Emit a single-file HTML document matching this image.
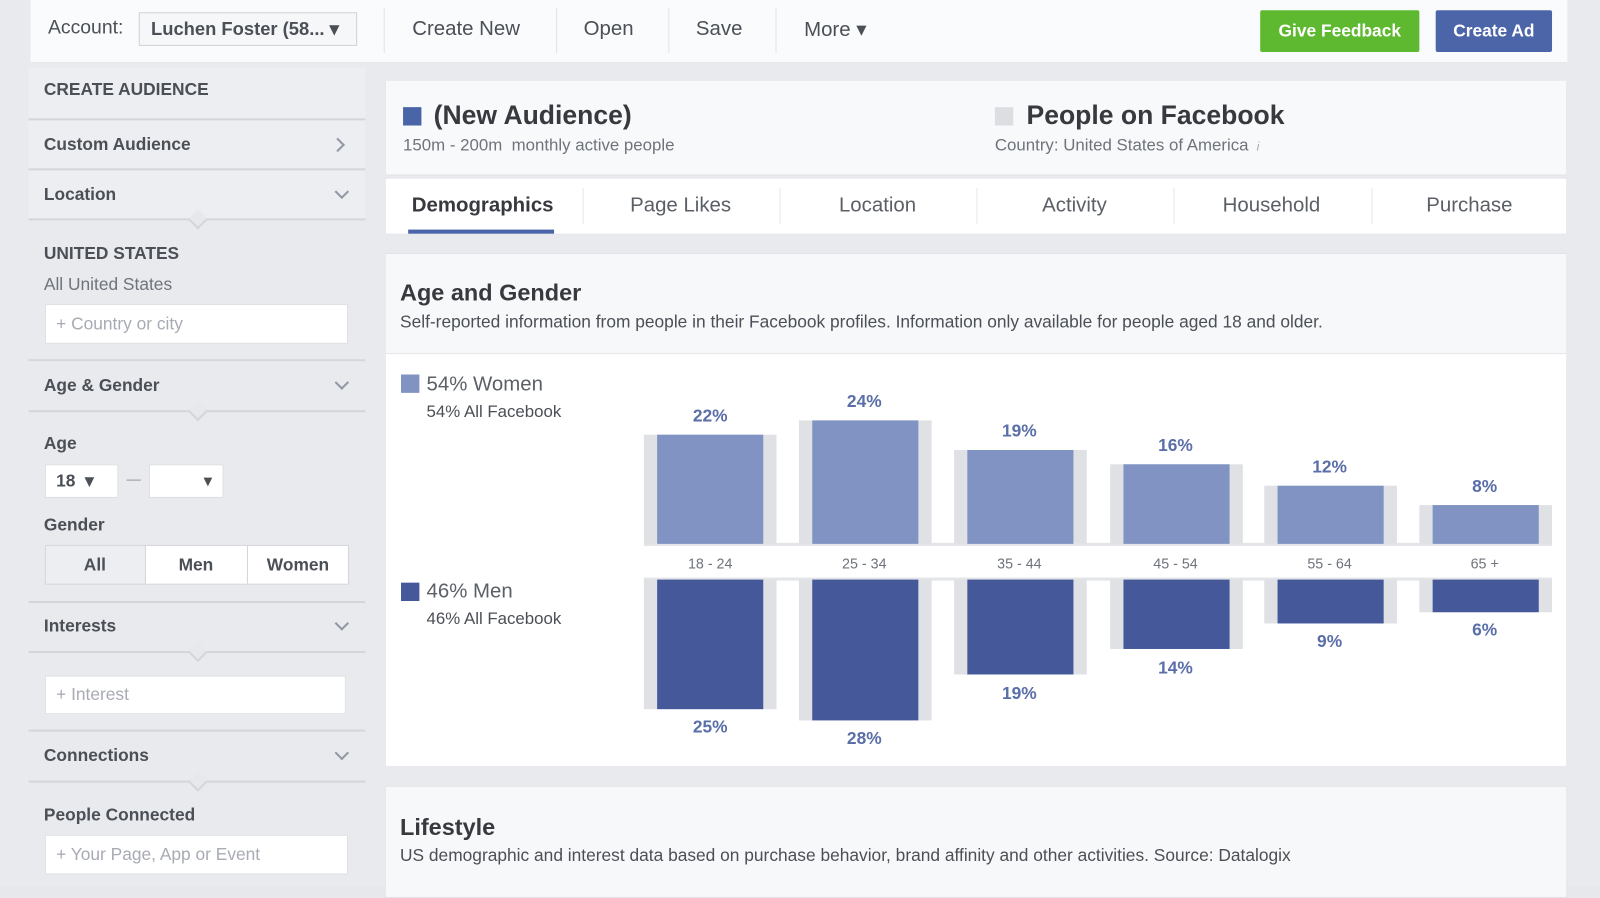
<!DOCTYPE html>
<html><head><meta charset="utf-8"><style>
*{margin:0;padding:0;box-sizing:border-box}
html,body{width:1600px;height:887px;overflow:hidden;background:#e6e8ec;font-family:"Liberation Sans",Arial,sans-serif}
#w{position:absolute;left:0;top:0;width:1568px;height:869px;transform:scale(1.0204);transform-origin:0 0;background:#e8eaee}
.a{position:absolute;white-space:nowrap}
.t{position:absolute;white-space:nowrap;transform:translateY(-50%)}
.c{position:absolute;white-space:nowrap;transform:translate(-50%,-50%)}
.sb{color:#4b4f56;font-weight:bold;font-size:17px}
.line{position:absolute;left:28px;width:330px;height:2px;background:#d3d6db}
.chev{position:absolute;width:10px;height:10px;border-right:2px solid #9197a3;border-bottom:2px solid #9197a3;transform:rotate(45deg)}
.notch{position:absolute;width:14px;height:14px;border-right:2px solid #d3d6db;border-bottom:2px solid #d3d6db;transform:rotate(45deg);background:#e6e8ec}
.inp{position:absolute;background:#fff;border:1px solid #dddfe2;color:#a7abb3;font-size:17px;padding-left:10px;display:flex;align-items:center}
.lbl{color:#5a6ea8;font-weight:bold;font-size:17px}
</style></head><body><div id="w">
<div class="a" style="left:30px;top:0;width:1506px;height:62px;background:#fafbfc;border-bottom:1px solid #dfe1e5"></div>
<div class="t" style="left:47px;top:28px;font-size:19px;color:#4b4f56">Account:</div>
<div class="a" style="left:136px;top:12px;width:214px;height:33px;border:1px solid #cfd2d7;background:#f6f7f9"></div>
<div class="t" style="left:148px;top:29px;font-size:18px;font-weight:bold;color:#4b4f56">Luchen Foster (58... ▾</div>
<div class="a" style="left:376px;top:8px;width:1px;height:44px;background:#e1e3e7"></div>
<div class="a" style="left:545px;top:8px;width:1px;height:44px;background:#e1e3e7"></div>
<div class="a" style="left:655px;top:8px;width:1px;height:44px;background:#e1e3e7"></div>
<div class="a" style="left:760px;top:8px;width:1px;height:44px;background:#e1e3e7"></div>
<div class="t" style="left:404px;top:29px;font-size:20px;color:#4b4f56">Create New</div>
<div class="t" style="left:572px;top:29px;font-size:20px;color:#4b4f56">Open</div>
<div class="t" style="left:682px;top:29px;font-size:20px;color:#4b4f56">Save</div>
<div class="t" style="left:788px;top:29px;font-size:20px;color:#4b4f56">More ▾</div>
<div class="a" style="left:1235px;top:10px;width:156px;height:41px;background:#5fb930;border-radius:2px;color:#fff;font-weight:bold;font-size:17px;display:flex;align-items:center;justify-content:center">Give Feedback</div>
<div class="a" style="left:1407px;top:10px;width:114px;height:41px;background:#4c65a9;border-radius:2px;color:#fff;font-weight:bold;font-size:17px;display:flex;align-items:center;justify-content:center">Create Ad</div>
<div class="a" style="left:28px;top:66px;width:330px;height:150px;background:#eceef1"></div>
<div class="t sb" style="left:43px;top:88px">CREATE AUDIENCE</div>
<div class="line" style="top:116px"></div>
<div class="t sb" style="left:43px;top:142px">Custom Audience</div>
<div class="chev" style="left:326px;top:137px;transform:rotate(-45deg)"></div>
<div class="line" style="top:165px"></div>
<div class="t sb" style="left:43px;top:191px">Location</div>
<div class="chev" style="left:330px;top:183px"></div>
<div class="line" style="top:214px"></div><div class="notch" style="left:187px;top:208px"></div>
<div class="t sb" style="left:43px;top:249px">UNITED STATES</div>
<div class="t" style="left:43px;top:279px;font-size:17px;color:#6f737b">All United States</div>
<div class="inp" style="left:44px;top:298px;width:297px;height:39px">+ Country or city</div>
<div class="line" style="top:352px"></div>
<div class="t sb" style="left:43px;top:378px">Age &amp; Gender</div>
<div class="chev" style="left:330px;top:370px"></div>
<div class="line" style="top:402px"></div><div class="notch" style="left:187px;top:396px"></div>
<div class="t sb" style="left:43px;top:435px;font-weight:bold">Age</div>
<div class="inp" style="left:44px;top:455px;width:72px;height:33px;color:#4b4f56;font-weight:bold">18&nbsp;&nbsp;▾</div>
<div class="a" style="left:124px;top:470px;width:14px;height:1px;background:#999"></div>
<div class="inp" style="left:146px;top:455px;width:73px;height:33px;color:#4b4f56;justify-content:flex-end;padding-right:10px">▾</div>
<div class="t sb" style="left:43px;top:515px">Gender</div>
<div class="a" style="left:44px;top:534px;width:298px;height:39px;background:#fff;border:1px solid #d3d6db"></div>
<div class="a" style="left:44px;top:534px;width:99px;height:39px;background:#eceef1;border:1px solid #d3d6db"></div>
<div class="a" style="left:242px;top:535px;width:1px;height:37px;background:#d3d6db"></div>
<div class="c sb" style="left:93px;top:554px">All</div>
<div class="c sb" style="left:192px;top:554px">Men</div>
<div class="c sb" style="left:292px;top:554px">Women</div>
<div class="line" style="top:589px"></div>
<div class="t sb" style="left:43px;top:614px">Interests</div>
<div class="chev" style="left:330px;top:606px"></div>
<div class="line" style="top:638px"></div><div class="notch" style="left:187px;top:632px"></div>
<div class="inp" style="left:44px;top:662px;width:295px;height:38px">+ Interest</div>
<div class="line" style="top:715px"></div>
<div class="t sb" style="left:43px;top:741px">Connections</div>
<div class="chev" style="left:330px;top:733px"></div>
<div class="line" style="top:765px"></div><div class="notch" style="left:187px;top:759px"></div>
<div class="t sb" style="left:43px;top:799px">People Connected</div>
<div class="inp" style="left:44px;top:818px;width:297px;height:39px">+ Your Page, App or Event</div>
<div class="a" style="left:377px;top:78px;width:1159px;height:94px;background:#f8f9fa;border:1px solid #e1e3e7"></div>
<div class="a" style="left:395px;top:105px;width:18px;height:18px;background:#4a64a8"></div>
<div class="t" style="left:425px;top:113px;font-size:26px;font-weight:bold;color:#37393e">(New Audience)</div>
<div class="t" style="left:395px;top:143px;font-size:16.5px;color:#6f737b">150m - 200m&nbsp; monthly active people</div>
<div class="a" style="left:975px;top:105px;width:18px;height:18px;background:#dcdee2"></div>
<div class="t" style="left:1006px;top:113px;font-size:26px;font-weight:bold;color:#37393e">People on Facebook</div>
<div class="t" style="left:975px;top:143px;font-size:16.5px;color:#6f737b">Country: United States of America <span style="font-size:12px;color:#aaa;font-style:italic">&nbsp;i</span></div>
<div class="a" style="left:377px;top:174px;width:1159px;height:56px;background:#fff;border:1px solid #e1e3e7"></div>
<div class="c" style="left:473px;top:202px;font-size:20px;font-weight:bold;color:#37393e">Demographics</div>
<div class="a" style="left:400px;top:225px;width:143px;height:4px;background:#4a64a8"></div>
<div class="c" style="left:667px;top:202px;font-size:20px;color:#5b5f66">Page Likes</div>
<div class="c" style="left:860px;top:202px;font-size:20px;color:#5b5f66">Location</div>
<div class="c" style="left:1053px;top:202px;font-size:20px;color:#5b5f66">Activity</div>
<div class="c" style="left:1246px;top:202px;font-size:20px;color:#5b5f66">Household</div>
<div class="c" style="left:1440px;top:202px;font-size:20px;color:#5b5f66">Purchase</div>
<div class="a" style="left:571px;top:184px;width:1px;height:36px;background:#e5e7ea"></div>
<div class="a" style="left:764px;top:184px;width:1px;height:36px;background:#e5e7ea"></div>
<div class="a" style="left:957px;top:184px;width:1px;height:36px;background:#e5e7ea"></div>
<div class="a" style="left:1150px;top:184px;width:1px;height:36px;background:#e5e7ea"></div>
<div class="a" style="left:1344px;top:184px;width:1px;height:36px;background:#e5e7ea"></div>
<div class="a" style="left:377px;top:248px;width:1159px;height:504px;background:#fff;border:1px solid #e1e3e7"></div>
<div class="a" style="left:378px;top:249px;width:1157px;height:98px;background:#f7f8f9;border-bottom:1px solid #e5e7ea"></div>
<div class="t" style="left:392px;top:287px;font-size:23px;font-weight:bold;color:#37393e">Age and Gender</div>
<div class="t" style="left:392px;top:316px;font-size:17px;color:#4b4f56">Self-reported information from people in their Facebook profiles. Information only available for people aged 18 and older.</div>
<div class="a" style="left:393px;top:367px;width:18px;height:18px;background:#8193c2"></div>
<div class="t" style="left:418px;top:377px;font-size:20px;color:#5b5f66">54% Women</div>
<div class="t" style="left:418px;top:404px;font-size:16.5px;color:#4b4f56">54% All Facebook</div>
<div class="a" style="left:393px;top:571px;width:18px;height:18px;background:#45599a"></div>
<div class="t" style="left:418px;top:580px;font-size:20px;color:#5b5f66">46% Men</div>
<div class="t" style="left:418px;top:607px;font-size:16.5px;color:#4b4f56">46% All Facebook</div>
<div class="a" style="left:631px;top:532px;width:890px;height:3px;background:#e3e5e8"></div>
<div class="a" style="left:631px;top:566px;width:890px;height:3px;background:#e3e5e8"></div>
<svg class="a" style="left:0;top:0" width="1568" height="869">
<g fill="#dfe1e4">
<rect x="631" y="426" width="130" height="107"/><rect x="783" y="412" width="130" height="121"/><rect x="935" y="441" width="130" height="92"/><rect x="1088" y="455" width="130" height="78"/><rect x="1239" y="476" width="130" height="57"/><rect x="1391" y="495" width="130" height="38"/>
<rect x="631" y="568" width="130" height="127"/><rect x="783" y="568" width="130" height="138"/><rect x="935" y="568" width="130" height="93"/><rect x="1088" y="568" width="130" height="68"/><rect x="1239" y="568" width="130" height="43"/><rect x="1391" y="568" width="130" height="32"/>
</g>
<g fill="#8193c2">
<rect x="644" y="426" width="104" height="107"/><rect x="796" y="412" width="104" height="121"/><rect x="948" y="441" width="104" height="92"/><rect x="1101" y="455" width="104" height="78"/><rect x="1252" y="476" width="104" height="57"/><rect x="1404" y="495" width="104" height="38"/>
</g>
<g fill="#45599a">
<rect x="644" y="568" width="104" height="127"/><rect x="796" y="568" width="104" height="138"/><rect x="948" y="568" width="104" height="93"/><rect x="1101" y="568" width="104" height="68"/><rect x="1252" y="568" width="104" height="43"/><rect x="1404" y="568" width="104" height="32"/>
</g>
</svg>
<div class="c lbl" style="left:696px;top:408px">22%</div><div class="c lbl" style="left:847px;top:394px">24%</div><div class="c lbl" style="left:999px;top:423px">19%</div><div class="c lbl" style="left:1152px;top:437px">16%</div><div class="c lbl" style="left:1303px;top:458px">12%</div><div class="c lbl" style="left:1455px;top:477px">8%</div>
<div class="c lbl" style="left:696px;top:713px">25%</div><div class="c lbl" style="left:847px;top:724px">28%</div><div class="c lbl" style="left:999px;top:680px">19%</div><div class="c lbl" style="left:1152px;top:655px">14%</div><div class="c lbl" style="left:1303px;top:629px">9%</div><div class="c lbl" style="left:1455px;top:618px">6%</div>
<div class="c" style="left:696px;top:552px;font-size:14px;color:#6f737b">18 - 24</div><div class="c" style="left:847px;top:552px;font-size:14px;color:#6f737b">25 - 34</div><div class="c" style="left:999px;top:552px;font-size:14px;color:#6f737b">35 - 44</div><div class="c" style="left:1152px;top:552px;font-size:14px;color:#6f737b">45 - 54</div><div class="c" style="left:1303px;top:552px;font-size:14px;color:#6f737b">55 - 64</div><div class="c" style="left:1455px;top:552px;font-size:14px;color:#6f737b">65 +</div>
<div class="a" style="left:377px;top:770px;width:1159px;height:110px;background:#f7f8f9;border:1px solid #e1e3e7"></div>
<div class="t" style="left:392px;top:811px;font-size:23px;font-weight:bold;color:#37393e">Lifestyle</div>
<div class="t" style="left:392px;top:839px;font-size:17px;color:#4b4f56">US demographic and interest data based on purchase behavior, brand affinity and other activities. Source: Datalogix</div>
</div></body></html>
